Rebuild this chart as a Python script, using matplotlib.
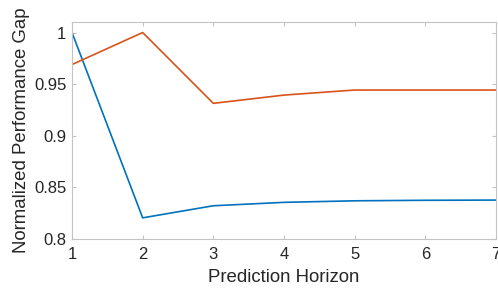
import matplotlib
matplotlib.use('Agg')
import matplotlib.pyplot as plt

horizon = [1, 2, 3, 4, 5, 6, 7]
gap_blue = [1.0, 0.8205, 0.8322, 0.8355, 0.8370, 0.8375, 0.8377]
gap_red = [0.969, 1.0, 0.9314, 0.9394, 0.9443, 0.9443, 0.9443]

plt.rcParams['font.family'] = ['Liberation Sans', 'DejaVu Sans']

fig = plt.figure(figsize=(4.98, 2.9), dpi=100)
ax = fig.add_axes([72 / 498, 1 - 239 / 290, (496 - 72) / 498, (239 - 22) / 290])

ax.plot(horizon, gap_blue, color='#0072BD', lw=1.2)
ax.plot(horizon, gap_red, color='#D95319', lw=1.2)

ax.set_xlim(1, 7)
ax.set_ylim(0.8, 1.0102)
ax.set_xticks(horizon)
ax.set_yticks([0.8, 0.85, 0.9, 0.95, 1.0])
ax.set_yticklabels(['0.8', '0.85', '0.9', '0.95', '1'])

for s in ax.spines.values():
    s.set_color('#c4c4c4')
    s.set_linewidth(0.8)
ax.tick_params(direction='in', length=3, width=0.8, color='#c4c4c4',
               labelcolor='#262626', labelsize=12, top=True, right=True, pad=4)
ax.tick_params(axis='x', pad=6)

ax.set_xlabel('Prediction Horizon', fontsize=13.4, color='#262626', labelpad=5)
ax.set_ylabel('Normalized Performance Gap', fontsize=13.4, color='#262626', labelpad=3)

fig.savefig('out.png', dpi=100)
